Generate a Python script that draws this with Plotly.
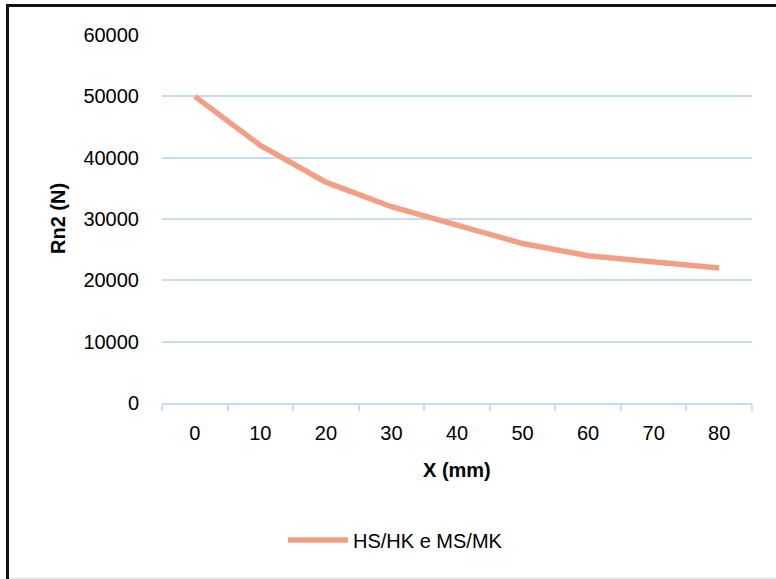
import plotly.graph_objects as go

x_labels = ["0", "10", "20", "30", "40", "50", "60", "70", "80"]
rn2_values = [50000, 42000, 36000, 32000, 29000, 26000, 24000, 23000, 22000]
series_name = "HS/HK e MS/MK"
y_ticks = [0, 10000, 20000, 30000, 40000, 50000, 60000]

W, H = 776, 579
L, R, T, B = 162, 24, 35, 176
pw, ph = W - L - R, H - T - B

def px_x(p):
    return (p - L) / pw

def px_y(p):
    return (H - B - p) / ph

grid = "#c6ddf1"
line_col = "#f1a085"
sans = "Liberation Sans, Arial, sans-serif"

fig = go.Figure()
fig.add_trace(go.Scatter(
    x=x_labels, y=rn2_values, mode="lines", name=series_name,
    line=dict(color=line_col, width=5.5, shape="linear"),
    showlegend=True,
))

fig.update_layout(
    width=W, height=H,
    margin=dict(l=L, r=R, t=T, b=B, autoexpand=False),
    paper_bgcolor="white", plot_bgcolor="white",
    showlegend=True,
    legend=dict(
        orientation="h", x=px_x(283), xanchor="left",
        y=px_y(540), yanchor="middle",
        font=dict(family=sans, size=20, color="#000000"),
        itemwidth=60, bgcolor="rgba(0,0,0,0)",
    ),
    xaxis=dict(
        type="category", categoryorder="array", categoryarray=x_labels,
        range=[-0.5, len(x_labels) - 0.5],
        showline=True, linecolor=grid, linewidth=1.5,
        ticks="outside", tickson="boundaries", ticklen=6, tickcolor=grid, tickwidth=1.5,
        showgrid=False, zeroline=False,
        tickfont=dict(family=sans, size=20, color="#000000"),
        ticklabelstandoff=11,
    ),
    yaxis=dict(
        range=[0, 60000], tickvals=y_ticks, ticktext=[str(v) for v in y_ticks],
        showgrid=True, gridcolor=grid, gridwidth=1.5,
        showline=False, zeroline=False, ticks="",
        tickfont=dict(family=sans, size=20, color="#000000"),
        ticklabelstandoff=22,
    ),
    annotations=[
        dict(text="<b>X (mm)</b>", xref="paper", yref="paper",
             x=px_x(457), y=px_y(470), xanchor="center", yanchor="middle",
             showarrow=False, font=dict(family=sans, size=20, color="#000000")),
        dict(text="<b>Rn2 (N)</b>", xref="paper", yref="paper",
             x=px_x(58), y=px_y(219), xanchor="center", yanchor="middle",
             textangle=-90, showarrow=False,
             font=dict(family=sans, size=20, color="#000000")),
    ],
    shapes=[
        dict(type="line", xref="paper", yref="paper",
             x0=px_x(7.5), x1=px_x(7.5), y0=px_y(4), y1=px_y(579),
             line=dict(color="#111111", width=3)),
        dict(type="line", xref="paper", yref="paper",
             x0=px_x(6), x1=px_x(776), y0=px_y(5.5), y1=px_y(5.5),
             line=dict(color="#111111", width=3)),
        dict(type="line", xref="paper", yref="paper",
             x0=px_x(9), x1=px_x(776), y0=px_y(578), y1=px_y(578),
             line=dict(color="#dddddd", width=1)),
    ],
)

fig.write_html(
    "out.html",
    config={"displayModeBar": False},
    post_script="document.body.style.margin='0';document.body.style.padding='0';",
)
